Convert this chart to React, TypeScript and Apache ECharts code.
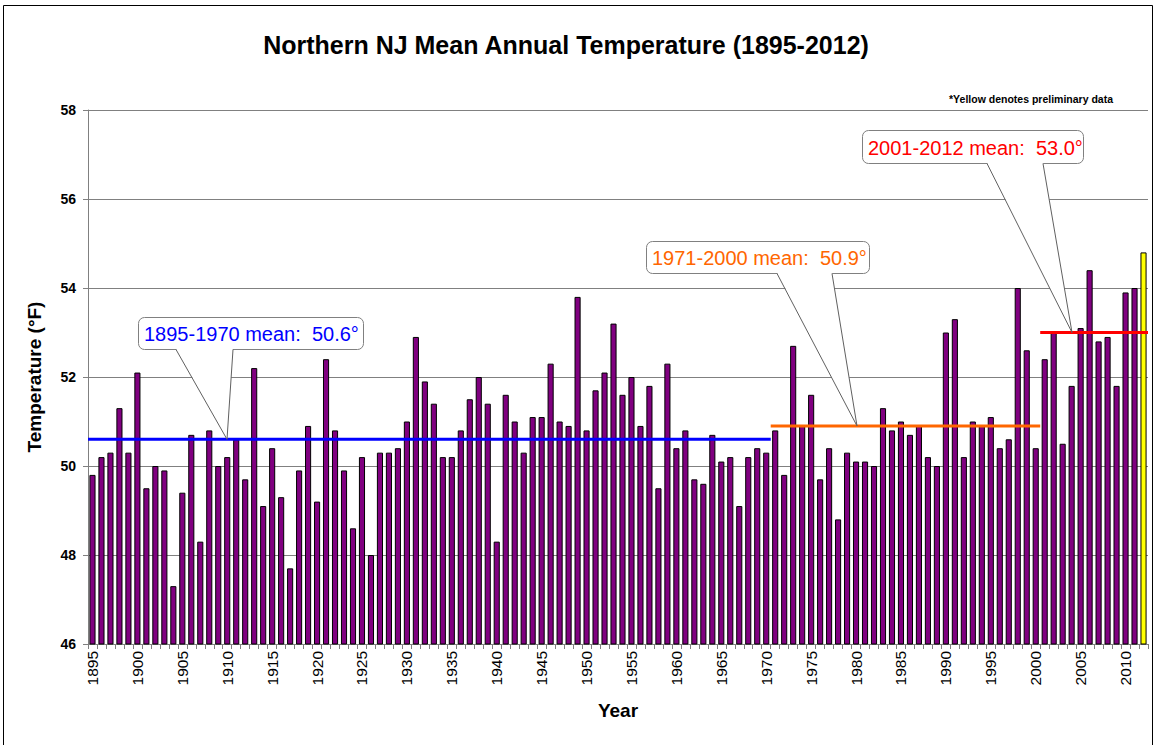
import React, { useEffect, useRef } from "react";
import * as echarts from "echarts";

const years: string[] = [];
for (let y = 1895; y <= 2012; y++) years.push(String(y));

const temps: number[] = [
  49.8, 50.2, 50.3, 51.3, 50.3, 52.1, 49.5, 50.0, 49.9, 47.3, // 1895-1904
  49.4, 50.7, 48.3, 50.8, 50.0, 50.2, 50.6, 49.7, 52.2, 49.1, // 1905-1914
  50.4, 49.3, 47.7, 49.9, 50.9, 49.2, 52.4, 50.8, 49.9, 48.6, // 1915-1924
  50.2, 48.0, 50.3, 50.3, 50.4, 51.0, 52.9, 51.9, 51.4, 50.2, // 1925-1934
  50.2, 50.8, 51.5, 52.0, 51.4, 48.3, 51.6, 51.0, 50.3, 51.1, // 1935-1944
  51.1, 52.3, 51.0, 50.9, 53.8, 50.8, 51.7, 52.1, 53.2, 51.6, // 1945-1954
  52.0, 50.9, 51.8, 49.5, 52.3, 50.4, 50.8, 49.7, 49.6, 50.7, // 1955-1964
  50.1, 50.2, 49.1, 50.2, 50.4, 50.3, 50.8, 49.8, 52.7, 50.9, // 1965-1974
  51.6, 49.7, 50.4, 48.8, 50.3, 50.1, 50.1, 50.0, 51.3, 50.8, // 1975-1984
  51.0, 50.7, 50.9, 50.2, 50.0, 53.0, 53.3, 50.2, 51.0, 50.9, // 1985-1994
  51.1, 50.4, 50.6, 54.0, 52.6, 50.4, 52.4, 53.0, 50.5, 51.8, // 1995-2004
  53.1, 54.4, 52.8, 52.9, 51.8, 53.9, 54.0, 54.8,             // 2005-2012
];
const preliminaryYears: string[] = ["2012"];

const meanLabels: string[] = ["1895-1970", "1971-2000", "2001-2012"];
const meanStart: number[] = [1895, 1971, 2001];
const meanEnd: number[] = [1970, 2000, 2012];
const meanValues: number[] = [50.6, 50.9, 53.0];
const meanColors: string[] = ["#0000FF", "#FF6600", "#FF0000"];

const yTicks = { min: 46, max: 58, interval: 2 };

// callout layout (pixels): box x, y, w, h, pointer base x1, x2, tip x
const callouts = [
  { x: 138, y: 317, w: 225, h: 32, b1: 176, b2: 233, tipX: 227 },
  { x: 646, y: 241, w: 223, h: 32, b1: 777, b2: 832, tipX: 857 },
  { x: 862, y: 130, w: 221, h: 33, b1: 987, b2: 1043, tipX: 1072 },
];

export default function App() {
  const ref = useRef<HTMLDivElement>(null);
  useEffect(() => {
    if (!ref.current) return;
    const chart = echarts.init(ref.current, null, { renderer: "svg" });
    const font = "Arial, 'Liberation Sans', sans-serif";
    const first = 1895;
    const lineSeries = meanValues.map((v, i) => ({
      type: "line" as const,
      xAxisIndex: 1,
      yAxisIndex: 0,
      symbol: "none",
      silent: true,
      z: 5,
      lineStyle: { color: meanColors[i], width: 3 },
      data: [
        [meanStart[i] - first, v],
        [meanEnd[i] - first + 1, v],
      ],
    }));
    const option: any = {
      animation: false,
      backgroundColor: "#ffffff",
      grid: { left: 88, right: 8, top: 110, bottom: 101, containLabel: false },
      title: {
        text: "Northern NJ Mean Annual Temperature (1895-2012)",
        left: 561,
        top: 27,
        textAlign: "center",
        textStyle: { fontFamily: font, fontSize: 25, fontWeight: "bold", color: "#000" },
      },
      xAxis: [
        {
          type: "category",
          data: years,
          name: "Year",
          nameLocation: "middle",
          nameGap: 57,
          nameTextStyle: { fontFamily: font, fontSize: 19, fontWeight: "bold", color: "#000" },
          axisLine: { lineStyle: { color: "#808080", width: 1 } },
          axisTick: { show: true, interval: 0, alignWithLabel: false, length: 5, lineStyle: { color: "#808080" } },
          axisLabel: {
            interval: 4,
            rotate: 90,
            margin: 7,
            fontFamily: font,
            fontSize: 15.5,
            color: "#000",
          },
          splitLine: { show: false },
        },
        { type: "value", min: 0, max: years.length, show: false },
      ],
      yAxis: {
        type: "value",
        min: yTicks.min,
        max: yTicks.max,
        interval: yTicks.interval,
        name: "Temperature (°F)",
        nameLocation: "middle",
        nameGap: 44,
        nameRotate: 90,
        nameTextStyle: { fontFamily: font, fontSize: 19, fontWeight: "bold", color: "#000" },
        axisLine: { show: true, lineStyle: { color: "#808080", width: 1 } },
        axisTick: { show: true, length: 5, lineStyle: { color: "#808080" } },
        axisLabel: { margin: 12, fontFamily: font, fontSize: 14, fontWeight: "bold", color: "#000" },
        splitLine: { show: true, lineStyle: { color: "#808080", width: 1 } },
      },
      series: [
        {
          type: "bar",
          xAxisIndex: 0,
          yAxisIndex: 0,
          barCategoryGap: "32%",
          z: 2,
          data: temps.map((t, i) => ({
            value: t,
            itemStyle: {
              color: preliminaryYears.includes(years[i]) ? "#FFFF00" : "#800080",
              borderColor: "#000",
              borderWidth: 1,
            },
          })),
        },
        ...lineSeries,
      ],
      graphic: [
        {
          type: "rect",
          shape: { x: 3.5, y: 5.5, width: 1149, height: 760 },
          style: { fill: "none", stroke: "#000", lineWidth: 1 },
          silent: true,
          z: 0,
        },
        {
          type: "text",
          right: 1156 - 1113,
          top: 93,
          style: {
            text: "*Yellow denotes preliminary data",
            fontFamily: font,
            fontSize: 10.5,
            fontWeight: "bold",
            fill: "#000",
          },
        },
      ],
    };
    chart.setOption(option);

    const extra: any[] = [];
    callouts.forEach((c, i) => {
      const tip = chart.convertToPixel({ xAxisIndex: 1, yAxisIndex: 0 } as any, [0, meanValues[i]]) as number[];
      const tipY = tip[1];
      const bottom = c.y + c.h;
      extra.push({
        type: "rect",
        shape: { x: c.x + 0.5, y: c.y + 0.5, width: c.w, height: c.h, r: 6 },
        style: { fill: "#fff", stroke: "#808080", lineWidth: 1 },
        z: 20,
      });
      extra.push({
        type: "polygon",
        shape: { points: [[c.b1, bottom - 0.5], [c.tipX, tipY], [c.b2, bottom - 0.5]] },
        style: { fill: "#fff", stroke: "none" },
        z: 21,
      });
      extra.push({
        type: "polyline",
        shape: { points: [[c.b1, bottom + 0.5], [c.tipX, tipY], [c.b2, bottom + 0.5]] },
        style: { fill: "none", stroke: "#606060", lineWidth: 1 },
        z: 22,
      });
      extra.push({
        type: "text",
        x: c.x + 6,
        y: c.y + c.h / 2 + 1,
        style: {
          text: `${meanLabels[i]} mean:  ${meanValues[i].toFixed(1)}°`,
          fontFamily: font,
          fontSize: 20,
          fill: meanColors[i],
          verticalAlign: "middle",
          align: "left",
        },
        z: 23,
      });
    });
    chart.setOption({ graphic: [...option.graphic, ...extra] });

    return () => chart.dispose();
  }, []);
  return (
    <div
      ref={ref}
      style={{ position: "absolute", left: 0, top: 0, width: 1156, height: 745 }}
    />
  );
}
